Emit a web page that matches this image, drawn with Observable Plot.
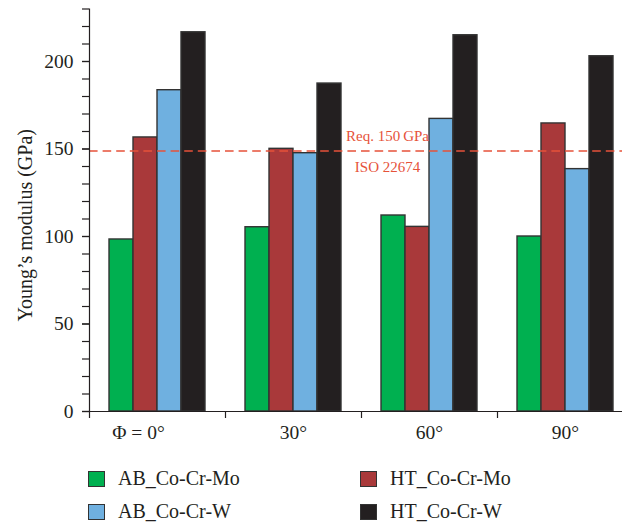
<!DOCTYPE html>
<html>
<head>
<meta charset="utf-8">
<script src="https://cdn.jsdelivr.net/npm/d3@7"></script>
<script src="https://cdn.jsdelivr.net/npm/@observablehq/plot@0.6"></script>
<style>
  html, body { margin: 0; padding: 0; background: #fff; overflow: hidden; }
  body { width: 622px; height: 526px; font-family: "Liberation Serif", serif; color: #231f20; }
  #legend { display: grid; grid-template-columns: 272px 262px; grid-auto-rows: 33px; padding-left: 88px; margin-top: 7px; font-size: 20px; }
  .item { display: flex; align-items: center; }
  .sw { width: 15px; height: 14px; border: 1.5px solid #333; margin-right: 13px; }
</style>
</head>
<body>
<div id="chart"></div>
<div id="legend"></div>
<script>
// ---- data ----
const angles = ["0°", "30°", "60°", "90°"];
const angleLabels = ["Φ = 0°", "30°", "60°", "90°"];
const seriesNames = ["AB_Co-Cr-Mo", "HT_Co-Cr-Mo", "AB_Co-Cr-W", "HT_Co-Cr-W"];
const abCoCrMo = [98.3, 105.3, 112, 100];
const htCoCrMo = [156.6, 150.1, 105.5, 164.6];
const abCoCrW = [183.6, 147.6, 167.2, 138.5];
const htCoCrW = [216.7, 187.4, 215, 203];
const seriesColors = ["#00b050", "#a9393a", "#6fb0e0", "#231f20"];
const yTicks = [0, 50, 100, 150, 200];
const yMinorTicks = d3.range(0, 231, 10);
const requirement = 150;
const reqLabel = "Req. 150\u2009GPa";
const isoLabel = "ISO 22674";
const yLabel = "Young\u2019s modulus (GPa)";

const seriesValues = [abCoCrMo, htCoCrMo, abCoCrW, htCoCrW];
const data = [];
angles.forEach((a, i) => seriesNames.forEach((s, j) => data.push({angle: a, series: s, value: seriesValues[j][i]})));
const labelOf = new Map(angles.map((a, i) => [a, angleLabels[i]]));

const red = "#e6523a";
const font = "Liberation Serif";

const chart = Plot.plot({
  width: 622,
  height: 455,
  marginLeft: 88,
  marginRight: -11,
  marginTop: 8.5,
  marginBottom: 44,
  style: {fontFamily: font, color: "#231f20", background: "white", overflow: "visible"},
  fx: {domain: angles, padding: 0},
  x: {domain: seriesNames, paddingInner: 0, paddingOuter: 0.78, axis: null},
  y: {domain: [0, 230], axis: null},
  color: {domain: seriesNames, range: seriesColors},
  marks: [
    Plot.barY(data, {fx: "angle", x: "series", y: "value", fill: "series", stroke: "#333", strokeWidth: 1.4}),
    Plot.ruleY([0], {stroke: "#231f20", strokeWidth: 1.2}),
    Plot.ruleY([requirement], {stroke: red, strokeWidth: 1.6, strokeDasharray: "8.6,5", dy: 2}),
    Plot.text([reqLabel], {fx: () => angles[2], x: () => seriesNames[0], y: () => requirement, dx: -6, dy: -13, fill: red, fontSize: 15, fontFamily: font}),
    Plot.text([isoLabel], {fx: () => angles[2], x: () => seriesNames[0], y: () => requirement, dx: -6, dy: 18, fill: red, fontSize: 15, fontFamily: font}),
    Plot.frame({anchor: "left", facetAnchor: "left", stroke: "#231f20", strokeWidth: 1.2}),
    Plot.axisY({ticks: yMinorTicks, text: null, tickSize: 7, label: null, strokeWidth: 1.2}),
    Plot.axisY({ticks: yTicks, tickSize: 7, tickPadding: 9, fontSize: 19.5, label: null, strokeWidth: 1.2}),
    Plot.axisFx({anchor: "bottom", text: null, tickSize: 7, dx: -68, label: null, strokeWidth: 1.2}),
    Plot.axisFx({anchor: "bottom", ticks: angles.slice(0, 1), tickSize: 0, tickPadding: 14, fontSize: 19.5, label: null, dx: -19, tickFormat: d => labelOf.get(d)}),
    Plot.axisFx({anchor: "bottom", ticks: angles.slice(1), tickSize: 0, tickPadding: 14, fontSize: 19.5, label: null, tickFormat: d => labelOf.get(d)}),
    Plot.text([yLabel], {facet: "super", frameAnchor: "left", textAnchor: "middle", rotate: -90, dx: -64, dy: 15, fontSize: 20, fontFamily: font, fill: "#231f20"})
  ]
});
document.getElementById("chart").append(chart);

const legendOrder = [0, 1, 2, 3];
const legend = document.getElementById("legend");
legendOrder.forEach(i => {
  const item = document.createElement("div");
  item.className = "item";
  const sw = document.createElement("span");
  sw.className = "sw";
  sw.style.background = seriesColors[i];
  const t = document.createElement("span");
  t.textContent = seriesNames[i];
  item.append(sw, t);
  legend.append(item);
});
</script>
</body>
</html>
